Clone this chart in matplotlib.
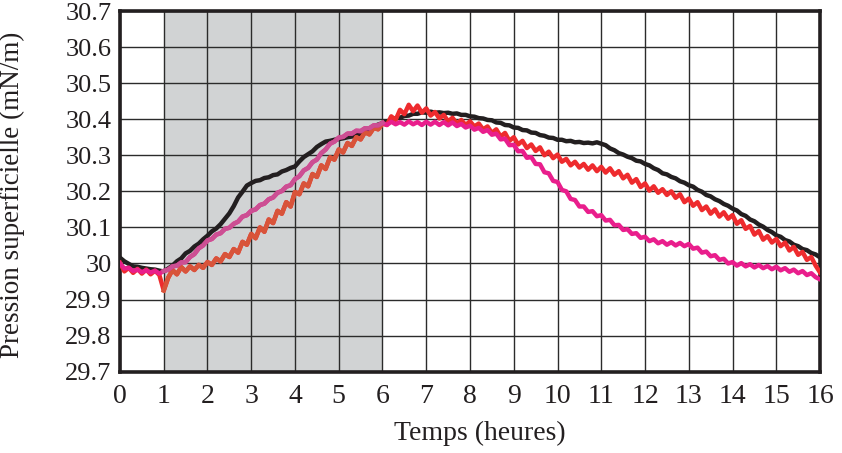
import numpy as np
import matplotlib
matplotlib.use('Agg')
import matplotlib.pyplot as plt

plt.rcParams['font.family'] = 'Liberation Serif'

# time axis, one reading every 0.1 h
hours = np.round(np.arange(0, 161) * 0.1, 1)

black = [
    30.016, 30.006, 29.999, 29.992, 29.991, 29.988, 29.986, 29.984, 29.983, 29.980,
    29.978, 29.986, 29.994, 30.006, 30.014, 30.028, 30.035, 30.047, 30.055, 30.067,
    30.077, 30.089, 30.097, 30.109, 30.124, 30.139, 30.159, 30.183, 30.199, 30.216,
    30.223, 30.229, 30.231, 30.237, 30.239, 30.245, 30.247, 30.255, 30.259, 30.265,
    30.269, 30.283, 30.295, 30.303, 30.311, 30.323, 30.331, 30.338, 30.340, 30.343,
    30.345, 30.347, 30.350, 30.352, 30.356, 30.360, 30.368, 30.374, 30.380, 30.385,
    30.389, 30.394, 30.397, 30.403, 30.404, 30.409, 30.410, 30.415, 30.415, 30.419,
    30.418, 30.421, 30.418, 30.419, 30.417, 30.418, 30.415, 30.416, 30.412, 30.412,
    30.408, 30.407, 30.403, 30.402, 30.398, 30.397, 30.391, 30.390, 30.384, 30.383,
    30.377, 30.376, 30.370, 30.369, 30.363, 30.362, 30.356, 30.354, 30.349, 30.348,
    30.343, 30.343, 30.339, 30.340, 30.336, 30.337, 30.334, 30.335, 30.333, 30.336,
    30.332, 30.328, 30.319, 30.314, 30.306, 30.302, 30.296, 30.292, 30.285, 30.283,
    30.276, 30.272, 30.264, 30.259, 30.250, 30.247, 30.240, 30.236, 30.228, 30.224,
    30.217, 30.213, 30.204, 30.199, 30.190, 30.186, 30.178, 30.173, 30.165, 30.160,
    30.152, 30.147, 30.137, 30.132, 30.122, 30.117, 30.108, 30.102, 30.093, 30.087,
    30.078, 30.074, 30.065, 30.061, 30.052, 30.048, 30.040, 30.037, 30.029, 30.025,
    30.017]

red = [
    30.002, 29.978, 29.988, 29.974, 29.985, 29.972, 29.983, 29.970, 29.980, 29.968,
    29.925, 29.960, 29.982, 29.970, 29.990, 29.978, 29.992, 29.982, 29.996, 29.988,
    30.004, 29.996, 30.014, 30.006, 30.026, 30.018, 30.040, 30.030, 30.060, 30.052,
    30.082, 30.070, 30.100, 30.088, 30.122, 30.112, 30.146, 30.138, 30.170, 30.158,
    30.198, 30.192, 30.222, 30.214, 30.248, 30.240, 30.272, 30.262, 30.294, 30.288,
    30.316, 30.308, 30.334, 30.326, 30.350, 30.344, 30.364, 30.358, 30.376, 30.372,
    30.388, 30.384, 30.408, 30.398, 30.426, 30.414, 30.440, 30.422, 30.438, 30.418,
    30.430, 30.410, 30.420, 30.402, 30.412, 30.394, 30.404, 30.388, 30.398, 30.384,
    30.394, 30.380, 30.388, 30.372, 30.380, 30.362, 30.372, 30.352, 30.362, 30.340,
    30.350, 30.330, 30.340, 30.320, 30.330, 30.312, 30.322, 30.300, 30.310, 30.292,
    30.302, 30.282, 30.290, 30.272, 30.282, 30.266, 30.276, 30.260, 30.272, 30.256,
    30.268, 30.252, 30.264, 30.246, 30.256, 30.236, 30.246, 30.224, 30.234, 30.212,
    30.222, 30.202, 30.214, 30.196, 30.206, 30.190, 30.200, 30.182, 30.192, 30.170,
    30.180, 30.160, 30.170, 30.148, 30.158, 30.138, 30.150, 30.130, 30.142, 30.124,
    30.134, 30.110, 30.120, 30.096, 30.104, 30.080, 30.090, 30.066, 30.076, 30.058,
    30.068, 30.048, 30.058, 30.036, 30.046, 30.024, 30.032, 30.010, 30.018, 29.994,
    29.975]

pink = [
    30.000, 29.986, 29.988, 29.979, 29.983, 29.976, 29.981, 29.975, 29.980, 29.972,
    29.979, 29.983, 29.992, 29.994, 30.003, 30.004, 30.018, 30.026, 30.042, 30.050,
    30.064, 30.068, 30.080, 30.084, 30.096, 30.099, 30.110, 30.116, 30.130, 30.134,
    30.146, 30.150, 30.162, 30.166, 30.178, 30.183, 30.196, 30.201, 30.213, 30.217,
    30.234, 30.242, 30.258, 30.265, 30.281, 30.288, 30.306, 30.316, 30.332, 30.338,
    30.349, 30.351, 30.360, 30.360, 30.368, 30.367, 30.375, 30.375, 30.383, 30.383,
    30.390, 30.384, 30.393, 30.386, 30.392, 30.385, 30.394, 30.386, 30.392, 30.384,
    30.393, 30.385, 30.393, 30.384, 30.392, 30.383, 30.391, 30.381, 30.387, 30.377,
    30.382, 30.371, 30.376, 30.365, 30.370, 30.357, 30.360, 30.344, 30.346, 30.328,
    30.329, 30.311, 30.312, 30.293, 30.295, 30.276, 30.275, 30.253, 30.250, 30.229,
    30.226, 30.204, 30.200, 30.179, 30.176, 30.158, 30.158, 30.143, 30.145, 30.131,
    30.134, 30.119, 30.121, 30.106, 30.107, 30.093, 30.095, 30.082, 30.084, 30.071,
    30.074, 30.062, 30.067, 30.056, 30.062, 30.052, 30.059, 30.050, 30.057, 30.048,
    30.054, 30.041, 30.044, 30.030, 30.033, 30.020, 30.023, 30.010, 30.013, 30.000,
    30.004, 29.994, 30.001, 29.992, 29.998, 29.989, 29.996, 29.987, 29.993, 29.984,
    29.991, 29.981, 29.987, 29.977, 29.983, 29.973, 29.979, 29.968, 29.973, 29.962,
    29.956]

shade_start, shade_end = 1, 6
x_ticks = list(range(0, 17))
y_ticks = [29.7, 29.8, 29.9, 30.0, 30.1, 30.2, 30.3, 30.4, 30.5, 30.6, 30.7]
y_labels = ['29.7', '29.8', '29.9', '30', '30.1', '30.2', '30.3', '30.4', '30.5', '30.6', '30.7']

fig = plt.figure(figsize=(8.42, 4.53), dpi=100)
ax = fig.add_axes([0.1425, 0.1795, 0.8314, 0.7962])

ax.axvspan(shade_start, shade_end, color='#d1d3d4', zorder=0, lw=0)

inside = (hours >= shade_start) & (hours <= shade_end)
lw = 3.2
ax.plot(hours, black, color='#231f20', lw=lw, zorder=3)
ax.plot(hours, red, color='#ee2b2e', lw=lw, zorder=4)
ax.plot(hours[inside], np.array(red)[inside], color='#d8543a', lw=lw, zorder=4)
ax.plot(hours, pink, color='#e91e8c', lw=lw, zorder=5)
ax.plot(hours[inside], np.array(pink)[inside], color='#cc4f93', lw=lw, zorder=5)

ax.set_xlim(0, 16)
ax.set_ylim(29.7, 30.7)
ax.set_xticks(x_ticks)
ax.set_yticks(y_ticks)
ax.set_yticklabels(y_labels)
ax.grid(True, color='#2b2b2b', lw=1.0)
ax.set_axisbelow(True)
for g in ax.get_xgridlines() + ax.get_ygridlines():
    g.set_zorder(1)
ax.tick_params(length=0, labelsize=19, colors='#231f20')
ax.tick_params(axis='x', pad=9, labelsize=20)
ax.tick_params(axis='y', pad=6)
for s in ax.spines.values():
    s.set_linewidth(2.6)
    s.set_color('#231f20')

ax.set_xlabel('Temps (heures)', fontsize=20, color='#231f20')
ax.set_ylabel('Pression superficielle (mN/m)', fontsize=19.5, color='#231f20')
ax.xaxis.set_label_coords(0.514, -0.135)
ax.yaxis.set_label_coords(-0.135, 0.49)

fig.savefig('out.png', dpi=100)
